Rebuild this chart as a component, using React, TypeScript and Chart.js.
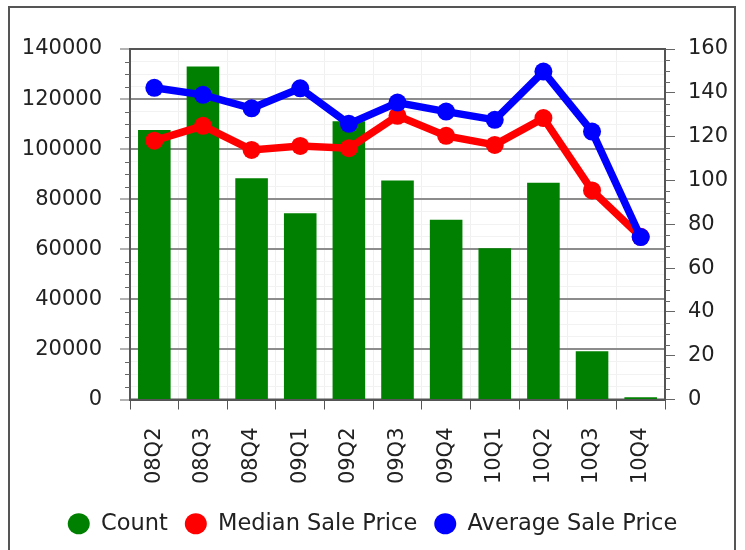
import { useEffect, useRef } from 'react';
import { Chart, registerables } from 'chart.js';

Chart.register(...registerables);

const categories = ['08Q2', '08Q3', '08Q4', '09Q1', '09Q2', '09Q3', '09Q4', '10Q1', '10Q2', '10Q3', '10Q4'];
const countValues = [123, 152, 101, 85, 127, 100, 82, 69, 99, 22, 1];
const medianValues = [103400, 109300, 99700, 101300, 100400, 113300, 105300, 101700, 112400, 83500, 65000];
const averageValues = [124500, 121700, 116300, 124300, 110100, 118600, 115000, 111700, 131000, 107000, 64900];
const priceTickLabels = [0, 20000, 40000, 60000, 80000, 100000, 120000, 140000];
const countTickLabels = [0, 20, 40, 60, 80, 100, 120, 140, 160];

const FONT = 'DejaVu Sans';

const framePlugin = {
  id: 'frame',
  beforeDraw(chart: any) {
    const { ctx } = chart;
    ctx.save();
    ctx.fillStyle = '#ffffff';
    ctx.fillRect(0, 0, chart.width, chart.height);
    ctx.strokeStyle = '#555555';
    ctx.lineWidth = 2;
    ctx.strokeRect(9, 7, 726, 600);
    ctx.restore();
  },
  beforeDatasetsDraw(chart: any) {
    const { ctx, chartArea } = chart;
    ctx.save();
    ctx.strokeStyle = '#555555';
    ctx.lineWidth = 2;
    ctx.strokeRect(chartArea.left, chartArea.top, chartArea.right - chartArea.left, chartArea.bottom - chartArea.top);
    ctx.lineWidth = 1;
    ctx.strokeStyle = '#666666';
    const y = chart.scales.y;
    y.ticks.forEach((t: any) => {
      if (!priceTickLabels.includes(t.value)) {
        const p = Math.round(y.getPixelForValue(t.value)) + 0.5;
        ctx.beginPath();
        ctx.moveTo(chartArea.left - 5, p);
        ctx.lineTo(chartArea.left, p);
        ctx.stroke();
      }
    });
    const y1 = chart.scales.y1;
    y1.ticks.forEach((t: any) => {
      if (!countTickLabels.includes(t.value)) {
        const p = Math.round(y1.getPixelForValue(t.value)) + 0.5;
        ctx.beginPath();
        ctx.moveTo(chartArea.right, p);
        ctx.lineTo(chartArea.right + 5, p);
        ctx.stroke();
      }
    });
    ctx.restore();
  },
};

export default function App() {
  const ref = useRef<HTMLCanvasElement | null>(null);

  useEffect(() => {
    if (!ref.current) return;
    const chart = new Chart(ref.current, {
      type: 'bar',
      data: {
        labels: categories,
        datasets: [
          {
            type: 'bar',
            label: 'Count',
            data: countValues,
            backgroundColor: '#008000',
            borderWidth: 0,
            yAxisID: 'y1',
            order: 3,
            categoryPercentage: 1,
            barPercentage: 0.67,
          },
          {
            type: 'line',
            label: 'Median Sale Price',
            data: medianValues,
            borderColor: '#ff0000',
            backgroundColor: '#ff0000',
            borderWidth: 7.5,
            pointRadius: 9,
            pointBorderWidth: 0,
            pointBackgroundColor: '#ff0000',
            yAxisID: 'y',
            order: 2,
          },
          {
            type: 'line',
            label: 'Average Sale Price',
            data: averageValues,
            borderColor: '#0000ff',
            backgroundColor: '#0000ff',
            borderWidth: 7.5,
            pointRadius: 9,
            pointBorderWidth: 0,
            pointBackgroundColor: '#0000ff',
            yAxisID: 'y',
            order: 1,
          },
        ],
      } as any,
      options: {
        animation: false,
        responsive: false,
        layout: { padding: { top: 49, left: 0, right: 0, bottom: 5 } },
        plugins: {
          tooltip: { enabled: false },
          legend: {
            position: 'bottom',
            labels: {
              usePointStyle: true,
              pointStyle: 'circle',
              boxHeight: 15,
              pointStyleWidth: 22,
              padding: 17,
              color: '#222222',
              font: { family: FONT, size: 22.5 },
              sort: (a: any, b: any) => a.datasetIndex - b.datasetIndex,
            },
          },
        },
        scales: {
          x: {
            grid: {
              offset: true,
              color: '#f0f0f0',
              tickColor: '#555555',
              tickLength: 10,
              lineWidth: 1,
            },
            border: { display: true, color: '#555555', width: 2 },
            ticks: {
              minRotation: 90,
              maxRotation: 90,
              padding: 18,
              color: '#222222',
              font: { family: FONT, size: 21 },
            },
            afterFit: (scale: any) => {
              scale.height = 96;
            },
          },
          y: {
            position: 'left',
            min: 0,
            max: 140000,
            grid: {
              color: (ctx: any) => (ctx.tick && priceTickLabels.includes(ctx.tick.value) ? '#8c8c8c' : '#f2f2f2'),
              lineWidth: (ctx: any) => (ctx.tick && priceTickLabels.includes(ctx.tick.value) ? 2 : 1),
              tickColor: (ctx: any) => (ctx.tick && priceTickLabels.includes(ctx.tick.value) ? '#666666' : 'rgba(0,0,0,0)'),
              tickLength: 10,
              tickWidth: 1,
            },
            border: { display: true, color: '#555555', width: 2 },
            ticks: {
              stepSize: 5000,
              autoSkip: false,
              padding: 18,
              color: '#222222',
              font: { family: FONT, size: 21 },
              callback: (v: any) => (priceTickLabels.includes(Number(v)) ? String(v) : ''),
            },
            afterFit: (scale: any) => {
              scale.width = 130;
            },
          },
          y1: {
            position: 'right',
            min: 0,
            max: 160,
            grid: {
              drawOnChartArea: false,
              tickColor: (ctx: any) => (ctx.tick && countTickLabels.includes(ctx.tick.value) ? '#666666' : 'rgba(0,0,0,0)'),
              tickLength: 10,
              tickWidth: 1,
            },
            border: { display: true, color: '#555555', width: 2 },
            ticks: {
              stepSize: 5,
              autoSkip: false,
              padding: 13,
              color: '#222222',
              font: { family: FONT, size: 21 },
              callback: (v: any) => (countTickLabels.includes(Number(v)) ? String(v) : ''),
            },
            afterFit: (scale: any) => {
              scale.width = 80;
            },
          },
        },
      } as any,
      plugins: [framePlugin],
    });
    return () => chart.destroy();
  }, []);

  return (
    <div style={{ position: 'absolute', left: 0, top: 0, width: 745, height: 550 }}>
      <canvas ref={ref} width={745} height={550} style={{ width: 745, height: 550, display: 'block' }} />
    </div>
  );
}
